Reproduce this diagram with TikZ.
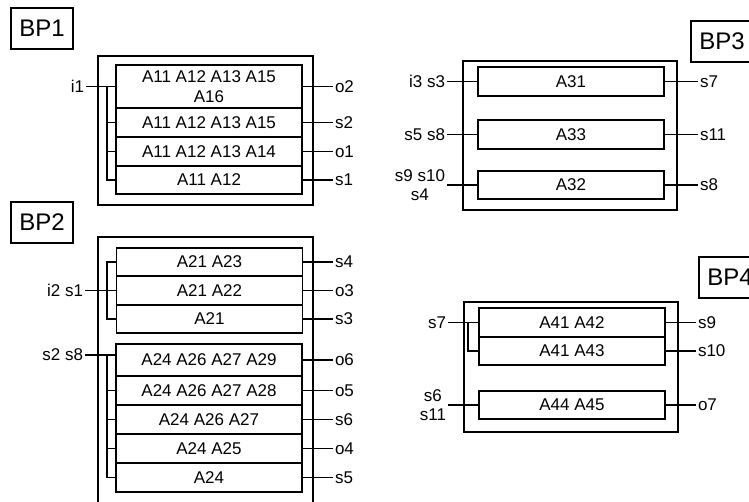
\documentclass[tikz,border=0pt]{standalone}
\usepackage{fontspec}
\setmainfont{Liberation Sans}
\begin{document}
\begin{tikzpicture}[x=0.75pt,y=-0.75pt,
  row/.style={draw, line width=1pt, minimum width=139.5pt, inner sep=0pt,
    font=\fontsize{12.75}{15}\selectfont, align=center},
  frame/.style={draw, line width=1pt},
  bplab/.style={draw, line width=1pt, font=\fontsize{18}{21}\selectfont,
    inner sep=0pt, minimum width=46.5pt, minimum height=30.75pt},
  sig/.style={inner sep=0pt, outer sep=1.5pt, font=\fontsize{12.75}{14}\selectfont, align=center},
  wire/.style={line width=1pt},
  h29/.style={minimum height=21.75pt},
  h28/.style={minimum height=21pt},
  h32/.style={minimum height=24pt},
  h43/.style={minimum height=32.25pt}]
\useasboundingbox (0,0) rectangle (749,502);

% ---------- BP1 ----------
\node[bplab] (bp1) at (42,28.5) {BP1};
\draw[frame] (98,56) rectangle (313,205);
\node[row,h43] (r11) at (209,86.5) {A11 A12 A13 A15\\A16};
\node[row,h29] (r12) at (209,122.5) {A11 A12 A13 A15};
\node[row,h29] (r13) at (209,151.5) {A11 A12 A13 A14};
\node[row,h28] (r14) at (209,180) {A11 A12};
\node[sig,anchor=east] (i1) at (86,86.5) {i1};
\draw[wire] (i1.east) -- (r11.west);
\coordinate (b1) at (107,86.5);
\draw[wire] (b1) |- (r14.west);
\draw[wire] (b1 |- r12.west) -- (r12.west);
\draw[wire] (b1 |- r13.west) -- (r13.west);
\node[sig,anchor=west] (o2) at (333,86.5) {o2};
\node[sig,anchor=west] (s2) at (333,122.5) {s2};
\node[sig,anchor=west] (o1) at (333,151.5) {o1};
\node[sig,anchor=west] (s1) at (333,180) {s1};
\draw[wire] (r11.east) -- (o2.west);
\draw[wire] (r12.east) -- (s2.west);
\draw[wire] (r13.east) -- (o1.west);
\draw[wire] (r14.east) -- (s1.west);

% ---------- BP2 ----------
\node[bplab] (bp2) at (42,222.5) {BP2};
\draw[frame] (98,506) -- (98,237) -- (313,237) -- (313,506);
\node[row,h28] (r21) at (209.5,262) {A21 A23};
\node[row,h29] (r22) at (209.5,290.5) {A21 A22};
\node[row,h28] (r23) at (209.5,319) {A21};
\node[sig,anchor=east] (i2s1) at (85,290.5) {i2 s1};
\draw[wire] (i2s1.east) -- (r22.west);
\coordinate (b2) at (107,262);
\draw[wire] (r21.west) -- (b2) |- (r23.west);
\node[sig,anchor=west] (s4) at (333,262) {s4};
\node[sig,anchor=west] (o3) at (333,290.5) {o3};
\node[sig,anchor=west] (s3) at (333,319) {s3};
\draw[wire] (r21.east) -- (s4.west);
\draw[wire] (r22.east) -- (o3.west);
\draw[wire] (r23.east) -- (s3.west);

\node[row,h32] (r24) at (209,360) {A24 A26 A27 A29};
\node[row,h29] (r25) at (209,390.5) {A24 A26 A27 A28};
\node[row,h29] (r26) at (209,419.5) {A24 A26 A27};
\node[row,h29] (r27) at (209,448.5) {A24 A25};
\node[row,h29] (r28) at (209,477.5) {A24};
\node[sig,anchor=east] (s2s8) at (85,355) {s2 s8};
\draw[wire] (s2s8.east) -- (s2s8.east -| r24.west);
\coordinate (b3) at (107,355);
\draw[wire] (b3) |- (r28.west);
\draw[wire] (b3 |- r25.west) -- (r25.west);
\draw[wire] (b3 |- r26.west) -- (r26.west);
\draw[wire] (b3 |- r27.west) -- (r27.west);
\node[sig,anchor=west] (o6) at (333,360) {o6};
\node[sig,anchor=west] (o5) at (333,390.5) {o5};
\node[sig,anchor=west] (s6) at (333,419.5) {s6};
\node[sig,anchor=west] (o4) at (333,448.5) {o4};
\node[sig,anchor=west] (s5) at (333,477.5) {s5};
\draw[wire] (r24.east) -- (o6.west);
\draw[wire] (r25.east) -- (o5.west);
\draw[wire] (r26.east) -- (s6.west);
\draw[wire] (r27.east) -- (o4.west);
\draw[wire] (r28.east) -- (s5.west);

% ---------- BP3 ----------
\node[bplab] (bp3) at (722,41.5) {BP3};
\draw[frame] (463,61) rectangle (677,210);
\node[row,h29] (r31) at (571,81.5) {A31};
\node[row,h29] (r33) at (571,134.5) {A33};
\node[row,h28] (r32) at (571,185) {A32};
\node[sig,anchor=east] (i3s3) at (447,81.5) {i3 s3};
\node[sig,anchor=east] (s5s8) at (447,134.5) {s5 s8};
\node[sig,anchor=east] (s9s10s4) at (447,185) {s9 s10\\s4};
\draw[wire] (i3s3.east) -- (r31.west);
\draw[wire] (s5s8.east) -- (r33.west);
\draw[wire] (s9s10s4.east) -- (r32.west);
\node[sig,anchor=west] (s7) at (698,81.5) {s7};
\node[sig,anchor=west] (s11) at (698,134.5) {s11};
\node[sig,anchor=west] (s8) at (698,185) {s8};
\draw[wire] (r31.east) -- (s7.west);
\draw[wire] (r33.east) -- (s11.west);
\draw[wire] (r32.east) -- (s8.west);

% ---------- BP4 ----------
\node[bplab] (bp4) at (730,277.5) {BP4};
\draw[frame] (464,302) rectangle (678,432);
\node[row,h29] (r41) at (572,322.5) {A41 A42};
\node[row,h28] (r42) at (572,351) {A41 A43};
\node[row,h28] (r43) at (572,405) {A44 A45};
\node[sig,anchor=east] (s7b) at (448,322.5) {s7};
\draw[wire] (s7b.east) -- (r41.west);
\coordinate (b4) at (468,322.5);
\draw[wire] (b4) |- (r42.west);
\node[sig,anchor=east] (s6s11) at (448,405) {s6\\s11};
\draw[wire] (s6s11.east) -- (r43.west);
\node[sig,anchor=west] (s9) at (696,322.5) {s9};
\node[sig,anchor=west] (s10) at (696,351) {s10};
\node[sig,anchor=west] (o7) at (696,405) {o7};
\draw[wire] (r41.east) -- (s9.west);
\draw[wire] (r42.east) -- (s10.west);
\draw[wire] (r43.east) -- (o7.west);
\end{tikzpicture}
\end{document}
